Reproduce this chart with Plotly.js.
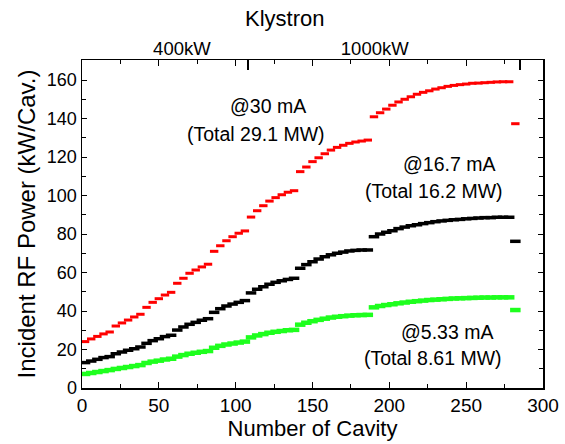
<!DOCTYPE html>
<html>
<head>
<meta charset="utf-8">
<script src="https://cdn.plot.ly/plotly-3.0.1.min.js"></script>
<style>html,body{margin:0;padding:0;background:#fff;}#chart{width:565px;height:444px;}</style>
</head>
<body>
<div id="chart"></div>
<script>
// Cavity number (centre of each group of 4 cavities fed alike)
const cavity = [2,6,10,14,18,22,26,30,34,38,42,46,50,54,58,62,66,70,74,78,82,86,90,94,98,102,106,110,114,118,122,126,130,134,138,142,146,150,154,158,162,166,170,174,178,182,186,
  190,194,198,202,206,210,214,218,222,226,230,234,238,242,246,250,254,258,262,266,270,274,278,
  282];

// Incident RF power (kW/Cav.) at 30 mA
const power30 = [24.1,25.5,26.8,28.1,29.1, 32.2,33.8,35.3,36.9,38.3, 41.9,44.5,46.4,48.3,49.7,
  54.4,57.0,59.6,61.3,62.9,64.3, 71.0,73.9,76.5,78.6,80.4,81.6,
  88.8,92.1,94.7,97.1,98.9,100.4,101.7,102.5,
  112.4,114.8,117.6,119.6,121.7,123.6,125.0,126.1,127.1,127.8,128.3,128.8,
  140.9,143.0,144.9,146.9,148.6,150.0,151.3,152.6,153.6,154.4,155.3,156.0,156.7,157.2,157.6,157.9,158.3,158.4,158.6,158.8,159.0,159.1,159.1,
  137.3];

// at 16.7 mA
const power167 = [13.2,14.0,14.9,15.8,16.3, 17.8,18.7,19.6,20.4,21.3, 23.2,24.6,25.6,26.7,27.4,
  30.1,31.7,33.1,34.1,35.2,36.0, 39.3,41.2,42.6,43.6,44.5,45.4,
  49.4,51.3,52.6,53.9,54.9,55.7,56.4,57.0,
  62.2,64.1,65.6,67.0,68.2,69.2,70.0,70.6,71.2,71.5,71.7,71.7,
  78.6,80.0,80.9,81.7,82.8,83.6,84.3,84.8,85.4,85.9,86.4,86.8,87.1,87.4,87.6,87.9,88.1,88.3,88.5,88.5,88.7,88.7,88.7,
  76.2];

// at 5.33 mA
const power533 = [7.3,7.8,8.3,8.8,9.3, 9.9,10.4,10.9,11.4,11.9, 13.0,13.7,14.2,14.8,15.2,
  16.3,17.1,17.8,18.3,18.8,19.2, 20.9,21.9,22.6,23.1,23.6,24.1,
  26.3,27.3,28.0,28.7,29.2,29.6,30.0,30.2,
  32.9,33.9,34.7,35.4,36.0,36.6,37.0,37.3,37.6,37.8,37.9,38.0,
  41.9,42.6,43.1,43.5,44.0,44.4,44.8,45.1,45.4,45.7,45.9,46.1,46.3,46.5,46.6,46.7,46.8,46.9,47.0,47.0,47.1,47.1,47.1,
  40.5];

// Klystron sections (top axis)
const klystronLabels = ['400kW','1000kW'];
const klystronLabelPos = [65, 190.5];
const klystronBounds = [108, 285];

// Annotation texts
const noteLines = ['@30 mA','(Total 29.1 MW)','@16.7 mA','(Total 16.2 MW)','@5.33 mA','(Total 8.61 MW)'];
const noteX = [121, 113.2, 238.8, 229, 237.5, 228.5];
const noteY = [146.5, 132, 116.4, 102.3, 29.1, 15.6];

const FONT = 'Liberation Sans, Arial, sans-serif';

function series(y, color, size, width) {
  return {
    x: cavity, y: y, type: 'scatter', mode: 'markers', showlegend: false,
    marker: {symbol: 'line-ew', size: size, color: color, line: {color: color, width: width}},
    hoverinfo: 'x+y'
  };
}

const data = [
  series(power30, '#ff0000', 6, 3),
  series(power167, '#000000', 7.5, 3.5),
  series(power533, '#1eff1e', 7.5, 4.5),
  {x: [0], y: [0], xaxis: 'x2', yaxis: 'y', mode: 'markers', marker: {opacity: 0}, showlegend: false, hoverinfo: 'skip'},
  {x: [0], y: [0], xaxis: 'x3', yaxis: 'y', mode: 'markers', marker: {opacity: 0}, showlegend: false, hoverinfo: 'skip'}
];

const notes = noteLines.map((t, i) => ({
  x: noteX[i], y: noteY[i], xref: 'x', yref: 'y', text: t, showarrow: false,
  xanchor: 'center', yanchor: 'middle', font: {size: 19.5, family: FONT, color: '#000'}
}));
notes.push({
  x: 0.44, y: 1.128, xref: 'paper', yref: 'paper', text: 'Klystron', showarrow: false,
  xanchor: 'center', yanchor: 'middle', font: {size: 22, family: FONT, color: '#000'}
});

const layout = {
  width: 565, height: 444,
  margin: {l: 82, r: 22, t: 60, b: 56},
  paper_bgcolor: '#fff', plot_bgcolor: '#fff',
  font: {family: FONT, color: '#000'},
  showlegend: false,
  xaxis: {
    range: [0, 300], dtick: 50, tick0: 0,
    ticks: 'inside', ticklen: 6, tickwidth: 1, tickcolor: '#000',
    minor: {dtick: 25, ticks: 'inside', ticklen: 4, tickcolor: '#000'},
    showline: true, linecolor: '#000', linewidth: 1.5, mirror: 'ticks',
    showgrid: false, zeroline: false,
    tickfont: {size: 19, family: FONT},
    title: {text: 'Number of Cavity', font: {size: 22, family: FONT}, standoff: 3}
  },
  yaxis: {
    range: [0, 170.4], dtick: 20, tick0: 0,
    ticks: 'inside', ticklen: 5, tickwidth: 1, tickcolor: '#000',
    minor: {dtick: 10, ticks: 'inside', ticklen: 4, tickcolor: '#000'},
    showline: true, linecolor: '#000', linewidth: 1.5, mirror: 'ticks',
    showgrid: false, zeroline: false,
    tickfont: {size: 18, family: FONT},
    title: {text: 'Incident RF Power (kW/Cav.)', font: {size: 24, family: FONT}, standoff: 4}
  },
  xaxis2: {
    overlaying: 'x', side: 'top', anchor: 'y', range: [0, 300],
    tickmode: 'array', tickvals: klystronLabelPos, ticktext: klystronLabels,
    ticks: '', showline: false, showgrid: false, zeroline: false,
    tickfont: {size: 18.5, family: FONT}
  },
  xaxis3: {
    overlaying: 'x', side: 'top', anchor: 'y', range: [0, 300],
    tickmode: 'array', tickvals: klystronBounds, ticktext: klystronBounds.map(() => ''),
    ticks: 'inside', ticklen: 10, tickwidth: 1.2, tickcolor: '#000',
    showticklabels: false, showline: false, showgrid: false, zeroline: false
  },
  annotations: notes
};

Plotly.newPlot('chart', data, layout, {displayModeBar: false, staticPlot: true});
</script>
</body>
</html>
